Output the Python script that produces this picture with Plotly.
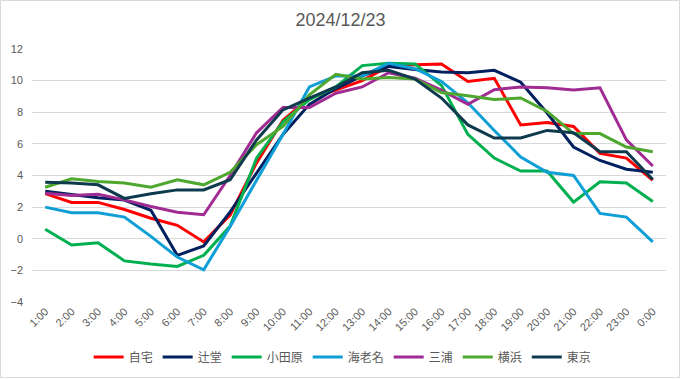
import plotly.graph_objects as go

hours = ["1:00", "2:00", "3:00", "4:00", "5:00", "6:00", "7:00", "8:00", "9:00", "10:00",
         "11:00", "12:00", "13:00", "14:00", "15:00", "16:00", "17:00", "18:00", "19:00",
         "20:00", "21:00", "22:00", "23:00", "0:00"]

jitaku = [2.85, 2.3, 2.3, 1.85, 1.3, 0.85, -0.2, 1.5, 4.8, 7.5, 8.9, 9.4, 10.0, 10.9, 11.0, 11.05,
          9.95, 10.15, 7.2, 7.35, 7.1, 5.4, 5.1, 3.7]
tsujido = [3.0, 2.8, 2.6, 2.45, 1.8, -1.05, -0.45, 1.7, 4.15, 6.6, 8.5, 9.5, 10.3, 10.9, 10.7, 10.55,
           10.5, 10.65, 9.9, 7.95, 5.8, 4.95, 4.4, 4.2]
odawara = [0.6, -0.4, -0.25, -1.4, -1.6, -1.75, -1.05, 0.8, 5.1, 7.4, 8.8, 9.6, 10.95, 11.1, 11.05, 9.7,
           6.6, 5.1, 4.28, 4.28, 2.32, 3.6, 3.52, 2.36]
ebina = [2.0, 1.64, 1.64, 1.37, 0.15, -1.16, -1.96, 0.78, 3.7, 6.6, 9.6, 10.3, 10.3, 11.1, 10.75, 9.95,
         8.6, 6.85, 5.17, 4.2, 4.0, 1.6, 1.37, -0.2]
miura = [2.88, 2.74, 2.82, 2.46, 2.04, 1.68, 1.52, 4.0, 6.7, 8.3, 8.3, 9.2, 9.6, 10.5, 10.15, 9.4,
         8.5, 9.42, 9.6, 9.55, 9.4, 9.55, 6.25, 4.6]
yokohama = [3.26, 3.79, 3.62, 3.52, 3.26, 3.73, 3.41, 4.2, 5.95, 7.1, 9.1, 10.4, 10.1, 10.2, 10.1, 9.25,
            9.05, 8.8, 8.9, 8.05, 6.65, 6.65, 5.8, 5.5]
tokyo = [3.58, 3.52, 3.41, 2.55, 2.84, 3.09, 3.09, 3.73, 6.25, 8.15, 8.9, 9.6, 10.5, 10.65, 10.1, 8.9,
         7.2, 6.37, 6.37, 6.85, 6.7, 5.5, 5.5, 3.75]

series_names = ["自宅", "辻堂", "小田原", "海老名", "三浦", "横浜", "東京"]
series_values = [jitaku, tsujido, odawara, ebina, miura, yokohama, tokyo]
series_colors = ["#FF0000", "#002060", "#00B050", "#0F9ED5", "#A02B93", "#4EA72E", "#0E3A4E"]

y_ticks = [-4, -2, 0, 2, 4, 6, 8, 10, 12]
title_text = "2024/12/23"

FONT = "Liberation Sans, Arial, Noto Sans CJK JP, sans-serif"
GRAY = "#595959"

fig = go.Figure()
for name, vals, col in zip(series_names, series_values, series_colors):
    fig.add_trace(go.Scatter(
        x=hours, y=vals, name=name, mode="lines",
        line=dict(color=col, width=3),
    ))

W, H = 681, 379
ml, mr, mt, mb = 32, 15, 49, 77
pw, ph = W - ml - mr, H - mt - mb
base = H - mb  # pixel row of paper y=0

fig.update_layout(
    width=W, height=H,
    margin=dict(l=ml, r=mr, t=mt, b=mb, autoexpand=False),
    paper_bgcolor="white", plot_bgcolor="white",
    font=dict(family=FONT, color=GRAY, size=11),
    title=dict(text=title_text, x=0.5, xanchor="center", y=1 - 20 / H, yanchor="middle",
               font=dict(size=18, color=GRAY, family=FONT)),
    showlegend=True,
    legend=dict(orientation="h", x=0.49, xanchor="center", y=(0 - 55) / ph, yanchor="middle",
                font=dict(size=12, color=GRAY, family="Noto Sans CJK JP, sans-serif"),
                itemwidth=30, tracegroupgap=0, bgcolor="rgba(0,0,0,0)"),
    xaxis=dict(type="category", tickangle=-45, showgrid=False, zeroline=False,
               showline=False, ticks="", tickfont=dict(size=11, color=GRAY),
               range=[-0.5, len(hours) - 0.5], automargin=False),
    yaxis=dict(range=[-4, 12], tickvals=y_ticks, showgrid=True, gridcolor="#D9D9D9",
               gridwidth=1, zeroline=False, showline=False, ticks="",
               tickfont=dict(size=11, color=GRAY), automargin=False,
               ticklabelstandoff=8),
    shapes=[dict(type="rect", xref="paper", yref="paper",
                 x0=(0.5 - ml) / pw, x1=(W - 1.5 - ml) / pw,
                 y0=(base - (H - 1.5)) / ph, y1=(base - 0.5) / ph,
                 line=dict(color="#D9D9D9", width=1), fillcolor="rgba(0,0,0,0)", layer="below")],
)

fig.write_html("out.html", config={"displayModeBar": False},
               post_script="document.body.style.margin='0';document.body.style.overflow='hidden';")
